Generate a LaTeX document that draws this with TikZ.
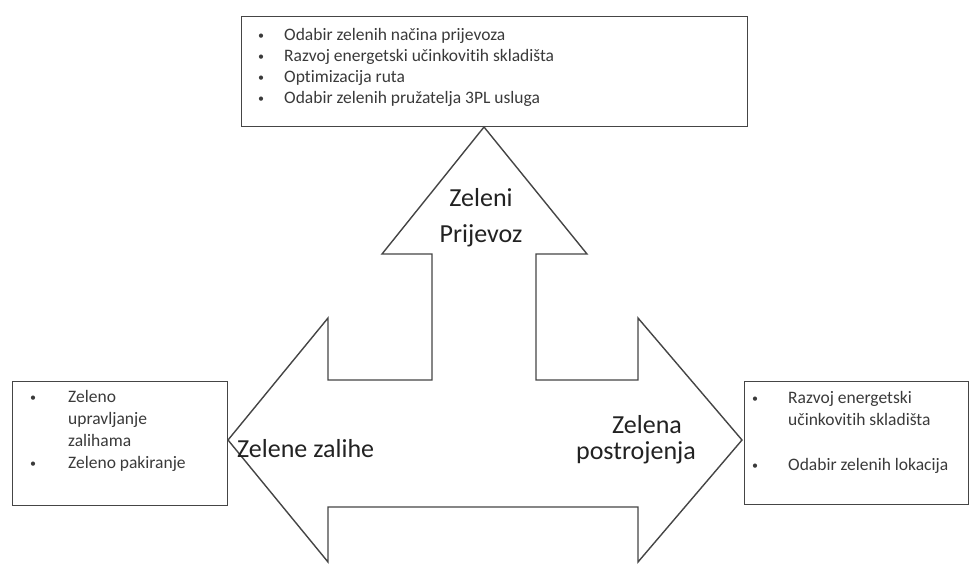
\documentclass[tikz,border=0pt]{standalone}
\usepackage{fontspec}
\setmainfont{Carlito}[Ligatures=NoCommon]
\definecolor{ln}{HTML}{454545}
\definecolor{tx}{HTML}{3A3A3A}
\definecolor{big}{HTML}{222222}
\tikzset{
  box/.style={draw=ln, line width=1.4pt, fill=white, anchor=north west, inner sep=0pt},
  item/.style={anchor=base west, inner sep=0pt, text=tx, font=\fontsize{17.5}{21}\selectfont},
  biglabel/.style={inner sep=0pt, text=big, font=\fontsize{26}{32}\selectfont},
  arrowshape/.style={draw=ln, line width=1.4pt, fill=white, line join=miter}
}
\newcommand{\bul}[1]{\makebox[#1][l]{\fontsize{12}{12}\selectfont\raisebox{1pt}{•}}}
\begin{document}
\begin{tikzpicture}[x=1pt,y=-1pt]
\useasboundingbox (0,0) rectangle (971,566);
% boxes
\node[box, minimum width=506pt, minimum height=110pt] (topbox) at (241,16) {};
\node[box, minimum width=215pt, minimum height=124pt] (leftbox) at (12,381) {};
\node[box, minimum width=224pt, minimum height=123pt] (rightbox) at (744,381) {};
% three-way arrow
\coordinate (uptip) at (484,127);
\coordinate (lefttip) at (228,440);
\coordinate (righttip) at (742,440);
\draw[arrowshape] (uptip) -- (587,254) -- (536,254) -- (536,380) -- (638,380) -- (638,318)
  -- (righttip) -- (638,562) -- (638,507) -- (328,507) -- (328,562) -- (lefttip)
  -- (328,318) -- (328,380) -- (432,380) -- (432,254) -- (382,254) -- cycle;
% top list
\node[item] (t1) at (258,40) {\bul{26pt}Odabir zelenih načina prijevoza};
\node[item] (t2) at (258,61) {\bul{26pt}Razvoj energetski učinkovitih skladišta};
\node[item] (t3) at (258,82) {\bul{26pt}Optimizacija ruta};
\node[item] (t4) at (258,103) {\bul{26pt}Odabir zelenih pružatelja 3PL usluga};
% left list
\node[item] (l1) at (30,402) {\bul{38pt}Zeleno};
\node[item] (l2) at (30,424) {\hspace*{38pt}upravljanje};
\node[item] (l3) at (30,446) {\hspace*{38pt}zalihama};
\node[item] (l4) at (30,468) {\bul{38pt}Zeleno pakiranje};
% right list
\node[item] (r1) at (752,403) {\bul{36pt}Razvoj energetski};
\node[item] (r2) at (752,425) {\hspace*{36pt}učinkovitih skladišta};
\node[item] (r3) at (752,470) {\bul{36pt}Odabir zelenih lokacija};
% arrow labels
\node[biglabel, anchor=base] (zp1) at (481,206) {Zeleni};
\node[biglabel, anchor=base] (zp2) at (481,242) {Prijevoz};
\node[biglabel, anchor=base west] (zz) at (237,457) {Zelene zalihe};
\node[biglabel, anchor=base] (zr1) at (647,433) {Zelena};
\node[biglabel, anchor=base] (zr2) at (636,459) {postrojenja};
\end{tikzpicture}
\end{document}
